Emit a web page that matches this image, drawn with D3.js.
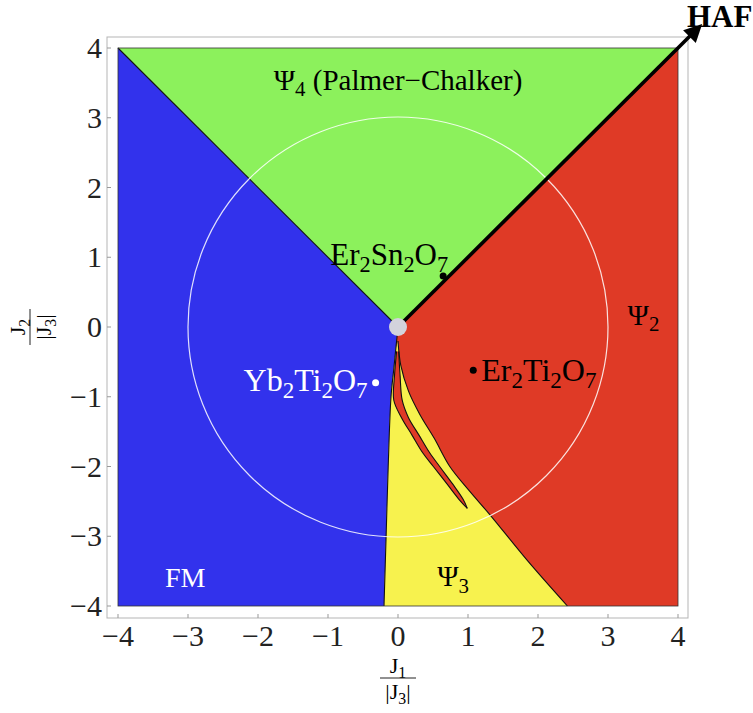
<!DOCTYPE html>
<html>
<head>
<meta charset="utf-8">
<script src="https://cdn.jsdelivr.net/npm/d3@7"></script>
<style>
  body { margin: 0; background: #fff; }
  svg text { font-family: "Liberation Serif", "DejaVu Serif", serif; }
</style>
</head>
<body>
<svg id="chart" width="753" height="713"></svg>
<script>
// axis ticks and labels
const tickValues = [-4, -3, -2, -1, 0, 1, 2, 3, 4];
const tickLabels = ["\u22124", "\u22123", "\u22122", "\u22121", "0", "1", "2", "3", "4"];

// phase boundaries (J1/|J3|, J2/|J3|)
const greenBlueLine = [[-4, 4], [0, 0]];
const hafLine = [[0, 0], [4.2, 4.2]];
const fmBoundary = [[0, 0], [-0.03, -0.3], [-0.06, -0.6], [-0.1, -1.0], [-0.14, -2.0], [-0.17, -3.0], [-0.2, -4]];
const psi3Outer = [[0.0, -0.2], [0.04, -0.55], [0.15, -0.92], [0.31, -1.25], [0.52, -1.6], [0.74, -2.0], [1.02, -2.35], [1.32, -2.70], [1.85, -3.35], [2.42, -4.0]];
const sliverLeft = [[-0.02, -0.35], [-0.05, -0.7], [-0.06, -1.05], [0.05, -1.3], [0.2, -1.55], [0.35, -1.8], [0.505, -2.0], [0.7, -2.25], [0.87, -2.47], [0.99, -2.6]];
const sliverRight = [[0.99, -2.6], [0.93, -2.47], [0.78, -2.25], [0.595, -2.0], [0.45, -1.8], [0.3, -1.55], [0.15, -1.3], [0.06, -1.05], [0.03, -0.7], [0.01, -0.35]];
const circleRadius = 3;

// compounds
const compounds = [
  { name: [["Er", 0], ["2", 1], ["Sn", 0], ["2", 1], ["O", 0], ["7", 1]], x: 0.645, y: 0.73, color: "#000", anchor: "end", dx: 5, dy: -11, size: 31 },
  { name: [["Yb", 0], ["2", 1], ["Ti", 0], ["2", 1], ["O", 0], ["7", 1]], x: -0.32, y: -0.8, color: "#fff", anchor: "end", dx: -8, dy: 8, size: 32 },
  { name: [["Er", 0], ["2", 1], ["Ti", 0], ["2", 1], ["O", 0], ["7", 1]], x: 1.075, y: -0.62, color: "#000", anchor: "start", dx: 8, dy: 11, size: 32 }
];

// phase labels
const phaseLabels = [
  { parts: [["\u03A8", 0], ["4", 1], [" (Palmer\u2212Chalker)", 0]], x: 0, y: 3.4, anchor: "middle", color: "#000", size: 29 },
  { parts: [["\u03A8", 0], ["2", 1]], x: 3.28, y: 0.03, anchor: "start", color: "#000", size: 29 },
  { parts: [["\u03A8", 0], ["3", 1]], x: 0.56, y: -3.72, anchor: "start", color: "#000", size: 29 },
  { parts: [["FM", 0]], x: -3.33, y: -3.73, anchor: "start", color: "#fff", size: 28 }
];

const colors = { blue: "#3232ec", green: "#8cf15c", red: "#df3a26", yellow: "#f7f24e" };

const svg = d3.select("#chart");
const x = d3.scaleLinear().domain([-4, 4]).range([118, 678]);
const y = d3.scaleLinear().domain([-4, 4]).range([606, 48]);

const straight = d3.line().x(d => x(d[0])).y(d => y(d[1]));
const smooth = d3.line().x(d => x(d[0])).y(d => y(d[1])).curve(d3.curveCatmullRom);

// join several path pieces into one closed shape
function joinPaths(pieces) {
  return pieces.map((p, i) => i === 0 ? p : "L" + p.slice(1)).join("") + "Z";
}

// frame
svg.append("rect")
  .attr("x", 107).attr("y", 37).attr("width", 581).attr("height", 581)
  .attr("fill", "#fff").attr("stroke", "#b5b5b5").attr("stroke-width", 1);

const plot = svg.append("g");

// blue FM region
plot.append("path")
  .attr("d", joinPaths([straight([[-4, -4], [-4, 4], [0, 0]]), smooth(fmBoundary), straight([[-0.2, -4], [-4, -4]])]))
  .attr("fill", colors.blue);

// green Psi4 region
plot.append("path")
  .attr("d", straight([[-4, 4], [4, 4], [0, 0]]) + "Z")
  .attr("fill", colors.green);

// red Psi2 region
plot.append("path")
  .attr("d", joinPaths([straight([[0, 0], [4, 4], [4, -4], [-0.2, -4]]), smooth(fmBoundary.slice().reverse())]))
  .attr("fill", colors.red);

// yellow Psi3 region
const fmLower = [[-0.03, -0.3]].concat(fmBoundary.filter(d => d[1] < -0.3));
plot.append("path")
  .attr("d", joinPaths([smooth(fmLower), straight([[-0.2, -4], [2.42, -4]]), smooth(psi3Outer.slice().reverse())]))
  .attr("fill", colors.yellow);

// red sliver inside Psi3
plot.append("path")
  .attr("d", joinPaths([smooth(sliverLeft), smooth(sliverRight)]))
  .attr("fill", colors.red);

// boundary lines
const edges = [greenBlueLine, fmBoundary, psi3Outer, sliverLeft, sliverRight];
plot.selectAll("path.edge")
  .data(edges)
  .enter().append("path")
  .attr("class", "edge")
  .attr("d", d => d.length > 2 ? smooth(d) : straight(d))
  .attr("fill", "none")
  .attr("stroke", "#111")
  .attr("stroke-width", 1.1);

plot.append("rect")
  .attr("x", x(-4)).attr("y", y(4))
  .attr("width", x(4) - x(-4)).attr("height", y(-4) - y(4))
  .attr("fill", "none").attr("stroke", "#333").attr("stroke-width", 0.8);

// circle |J| = 3
plot.append("circle")
  .attr("cx", x(0)).attr("cy", y(0))
  .attr("r", x(circleRadius) - x(0))
  .attr("fill", "none")
  .attr("stroke", "#fff")
  .attr("stroke-opacity", 0.85)
  .attr("stroke-width", 1.2);

// HAF arrow
svg.append("defs").append("marker")
  .attr("id", "arrow")
  .attr("viewBox", "0 0 10 10")
  .attr("refX", 2).attr("refY", 5)
  .attr("markerWidth", 6).attr("markerHeight", 5)
  .attr("orient", "auto")
  .append("path").attr("d", "M0,0L10,5L0,10Z").attr("fill", "#000");

plot.append("path")
  .attr("d", straight(hafLine))
  .attr("stroke", "#000")
  .attr("stroke-width", 3.6)
  .attr("marker-end", "url(#arrow)");

svg.append("text")
  .attr("x", 687).attr("y", 27)
  .attr("font-size", 31).attr("font-weight", "bold")
  .text("HAF");

// grey dot at origin
plot.append("circle")
  .attr("cx", x(0)).attr("cy", y(0)).attr("r", 9)
  .attr("fill", "#d3d3dc");

// text with subscripts
function richText(g, parts, size) {
  let shifted = false;
  parts.forEach(([s, sub]) => {
    const t = g.append("tspan").text(s);
    if (sub && !shifted) { t.attr("dy", size * 0.22).attr("font-size", size * 0.72); shifted = true; }
    else if (sub) { t.attr("font-size", size * 0.72); }
    else if (shifted) { t.attr("dy", -size * 0.22); shifted = false; }
  });
}

phaseLabels.forEach(p => {
  const t = svg.append("text")
    .attr("x", x(p.x)).attr("y", y(p.y))
    .attr("text-anchor", p.anchor)
    .attr("fill", p.color)
    .attr("font-size", p.size);
  richText(t, p.parts, p.size);
});

compounds.forEach(c => {
  svg.append("circle")
    .attr("cx", x(c.x)).attr("cy", y(c.y)).attr("r", 3.5)
    .attr("fill", c.color);
  const t = svg.append("text")
    .attr("x", x(c.x) + c.dx).attr("y", y(c.y) + c.dy)
    .attr("text-anchor", c.anchor)
    .attr("fill", c.color)
    .attr("font-size", c.size);
  richText(t, c.name, c.size);
});

// ticks
const axes = svg.append("g").attr("stroke", "#999").attr("stroke-width", 1);
axes.selectAll("line.xt").data(tickValues).enter().append("line")
  .attr("x1", d => x(d)).attr("x2", d => x(d))
  .attr("y1", 618).attr("y2", 614);
axes.selectAll("line.yt").data(tickValues).enter().append("line")
  .attr("y1", d => y(d)).attr("y2", d => y(d))
  .attr("x1", 107).attr("x2", 111);

svg.selectAll("text.xl").data(tickValues).enter().append("text")
  .attr("x", d => x(d)).attr("y", 646)
  .attr("text-anchor", "middle").attr("font-size", 30).attr("fill", "#222")
  .text((d, i) => tickLabels[i]);
svg.selectAll("text.yl").data(tickValues).enter().append("text")
  .attr("x", 102).attr("y", d => y(d) + 10)
  .attr("text-anchor", "end").attr("font-size", 30).attr("fill", "#222")
  .text((d, i) => tickLabels[i]);

// axis titles as fractions
function fraction(g, num, den) {
  const n = g.append("text").attr("text-anchor", "middle").attr("y", -5).attr("font-size", 22);
  richText(n, num, 22);
  g.append("line").attr("x1", -18).attr("x2", 18).attr("y1", 0).attr("y2", 0)
    .attr("stroke", "#222").attr("stroke-width", 1);
  const d = g.append("text").attr("text-anchor", "middle").attr("y", 21).attr("font-size", 22);
  richText(d, den, 22);
}
fraction(svg.append("g").attr("transform", "translate(398,678)"),
  [["J", 0], ["1", 1]], [["|J", 0], ["3", 1], ["|", 0]]);
fraction(svg.append("g").attr("transform", "translate(30,327) rotate(-90)"),
  [["J", 0], ["2", 1]], [["|J", 0], ["3", 1], ["|", 0]]);
</script>
</body>
</html>
